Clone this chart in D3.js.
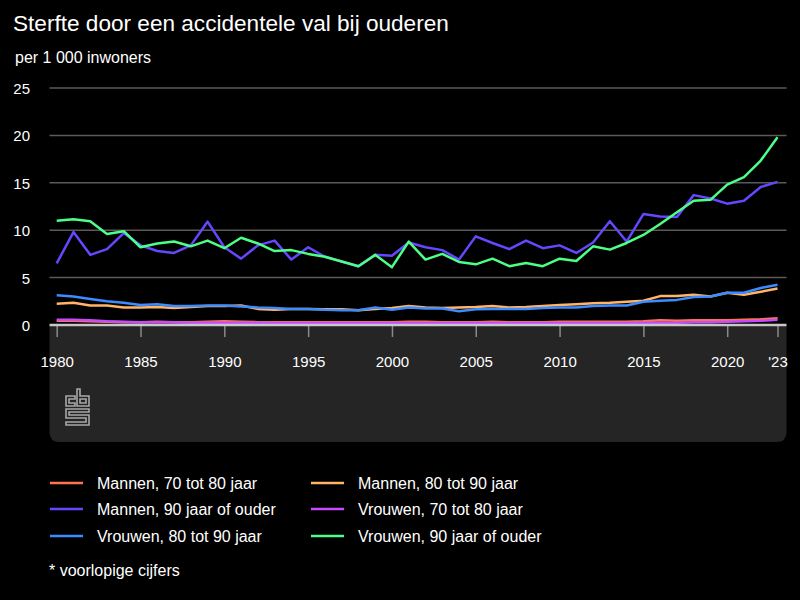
<!DOCTYPE html>
<html><head><meta charset="utf-8">
<script src="https://cdn.jsdelivr.net/npm/d3@7"></script>
<style>
html,body{margin:0;padding:0;background:#000;}
svg{display:block;font-family:"Liberation Sans",Arial,sans-serif;}
</style></head>
<body>
<svg id="chart" width="800" height="600"></svg>
<script>
const years = d3.range(1980, 2024);
const xTickValues = [1980,1985,1990,1995,2000,2005,2010,2015,2020,2023];
const xTickLabels = ["1980","1985","1990","1995","2000","2005","2010","2015","2020","'23"];
const yTickValues = [0,5,10,15,20,25];

const seriesNames = ["Mannen, 70 tot 80 jaar","Mannen, 80 tot 90 jaar","Mannen, 90 jaar of ouder","Vrouwen, 70 tot 80 jaar","Vrouwen, 80 tot 90 jaar","Vrouwen, 90 jaar of ouder"];
const seriesColors = ["#ff7352","#ffb46a","#6547ff","#c64bff","#3b8cff","#4cff86"];

const mannen70 = [0.45,0.45,0.4,0.35,0.3,0.3,0.35,0.3,0.3,0.35,0.4,0.35,0.3,0.3,0.3,0.3,0.3,0.3,0.3,0.3,0.3,0.35,
  0.35,0.3,0.3,0.3,0.35,0.3,0.3,0.3,0.35,0.35,0.35,0.35,0.35,0.4,0.5,0.45,0.5,0.5,0.5,0.55,0.6,0.7];
const mannen80 = [2.25,2.35,2.05,2.05,1.85,1.85,1.9,1.8,1.9,2.0,2.0,2.05,1.7,1.6,1.7,1.7,1.65,1.65,1.55,1.7,1.8,2.0,
  1.85,1.8,1.85,1.9,2.0,1.85,1.9,2.0,2.1,2.2,2.3,2.35,2.45,2.55,3.05,3.05,3.2,3.0,3.4,3.2,3.5,3.85];
const mannen90 = [6.5,9.8,7.4,8.0,9.7,8.4,7.8,7.6,8.4,10.9,8.2,7.0,8.4,8.9,6.9,8.2,7.2,6.7,6.2,7.4,7.3,8.7,
  8.2,7.9,6.9,9.35,8.65,8.0,8.9,8.1,8.4,7.6,8.7,10.95,8.8,11.7,11.45,11.4,13.7,13.35,12.8,13.1,14.55,15.1];
const vrouwen70 = [0.55,0.55,0.5,0.4,0.35,0.3,0.3,0.3,0.25,0.25,0.25,0.25,0.25,0.2,0.2,0.2,0.2,0.2,0.2,0.2,0.2,0.2,
  0.2,0.2,0.2,0.2,0.2,0.2,0.2,0.2,0.2,0.2,0.2,0.2,0.2,0.25,0.25,0.25,0.3,0.3,0.35,0.4,0.45,0.55];
const vrouwen80 = [3.15,3.0,2.75,2.5,2.35,2.1,2.2,2.0,2.0,2.05,2.05,1.95,1.85,1.8,1.7,1.7,1.6,1.55,1.55,1.85,1.6,1.85,
  1.75,1.75,1.45,1.65,1.7,1.7,1.7,1.8,1.85,1.85,2.0,2.05,2.05,2.45,2.55,2.65,2.95,3.0,3.4,3.4,3.9,4.25];
const vrouwen90 = [11.0,11.15,10.95,9.6,9.9,8.2,8.6,8.8,8.3,8.9,8.1,9.2,8.6,7.8,7.9,7.5,7.2,6.7,6.2,7.4,6.1,8.8,
  6.9,7.5,6.65,6.4,7.0,6.2,6.55,6.2,7.0,6.75,8.3,7.95,8.65,9.5,10.65,11.9,13.1,13.2,14.8,15.6,17.35,19.8];

const seriesValues = [mannen70, mannen80, mannen90, vrouwen70, vrouwen80, vrouwen90];

const svg = d3.select("#chart");
const x = d3.scaleLinear().domain([1980, 2023]).range([56.7, 777.5]);
const y = d3.scaleLinear().domain([0, 25]).range([325, 88]);
const left = 49.5, right = 786.5;

// titles
svg.append("text").attr("x", 13).attr("y", 31).attr("fill", "#fff")
  .attr("font-size", 22.6).text("Sterfte door een accidentele val bij ouderen");
svg.append("text").attr("x", 15).attr("y", 63).attr("fill", "#fff")
  .attr("font-size", 16).text("per 1 000 inwoners");

// bottom panel
svg.append("path").attr("fill", "#252525")
  .attr("d", `M${left},326 H${right} V432 Q${right},442 ${right-10},442 H${left+10} Q${left},442 ${left},432 Z`);

// grid
svg.append("g").selectAll("line").data(yTickValues.filter(d => d > 0)).join("line")
  .attr("x1", left).attr("x2", right)
  .attr("y1", d => y(d)).attr("y2", d => y(d))
  .attr("stroke", "#5a5a5a").attr("stroke-width", 1.5);

// y labels
svg.append("g").selectAll("text").data(yTickValues).join("text")
  .attr("x", 30).attr("y", d => y(d) + 6).attr("text-anchor", "end")
  .attr("fill", "#fff").attr("font-size", 15).text(d => d);

// x axis
const xAxis = d3.axisBottom(x).tickValues(xTickValues)
  .tickFormat((d, i) => xTickLabels[i]).tickSize(11).tickPadding(19);
const gx = svg.append("g").attr("transform", "translate(0,326)").call(xAxis);
gx.select(".domain").remove();
gx.selectAll(".tick line").attr("stroke", "#8a8a8a").attr("stroke-width", 1.5);
gx.selectAll(".tick text").attr("fill", "#fff").attr("font-size", 15)
  .attr("font-family", "'Liberation Sans',Arial,sans-serif");

// lines
const line = d3.line().x((d, i) => x(years[i])).y(d => y(d));
svg.append("g").selectAll("path").data(seriesValues).join("path")
  .attr("d", d => line(d)).attr("fill", "none")
  .attr("stroke", (d, i) => seriesColors[i]).attr("stroke-width", 2.5)
  .attr("stroke-linejoin", "round");

// baseline
svg.append("line").attr("x1", left).attr("x2", right).attr("y1", 325).attr("y2", 325)
  .attr("stroke", "#c8c8c8").attr("stroke-width", 2.5);

// cbs logo
const logo = svg.append("g").attr("fill", "none").attr("stroke", "#a8a8a8").attr("stroke-width", 1.6);
logo.append("path").attr("d", "M66,396 H75 V399 H69 V403 H75 V406 H66 Z");
logo.append("path").attr("d", "M77,389 H80 V396 H89 V406 H77 Z M80,399 V403 H86 V399 Z");
logo.append("path").attr("d", "M66,409 H89 V412 H69 V415 H89 V425 H66 V422 H86 V418 H66 Z");

// legend
const legendX = [50, 311];
const legendY = [483, 509, 536];
const lg = svg.append("g").selectAll("g").data(seriesNames).join("g")
  .attr("transform", (d, i) => `translate(${legendX[i % 2]},${legendY[Math.floor(i / 2)]})`);
lg.append("line").attr("x1", 0).attr("x2", 33).attr("y1", 0).attr("y2", 0)
  .attr("stroke", (d, i) => seriesColors[i]).attr("stroke-width", 2.5);
lg.append("text").attr("x", 47).attr("y", 6).attr("fill", "#fff")
  .attr("font-size", 16).text(d => d);

svg.append("text").attr("x", 49).attr("y", 576).attr("fill", "#fff")
  .attr("font-size", 16).text("* voorlopige cijfers");
</script>
</body></html>
